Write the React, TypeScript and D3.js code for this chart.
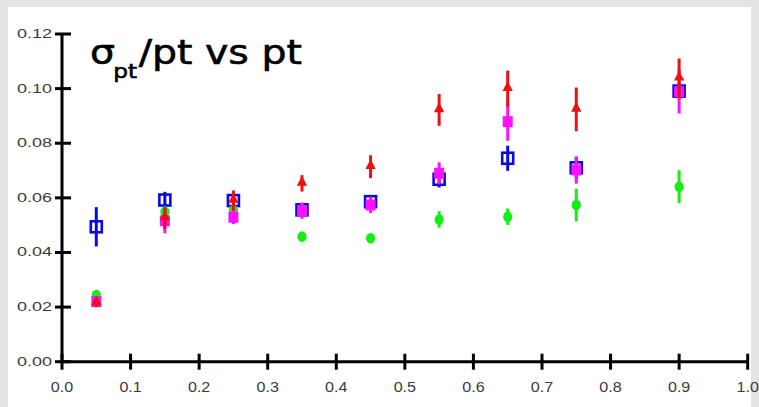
import React from "react";
import * as d3 from "d3";

// pt bin centres
const ptBins = [0.05, 0.15, 0.25, 0.35, 0.45, 0.55, 0.65, 0.75, 0.9];

// sigma_pt / pt for each sample, with errors
const blueVals = [0.0494, 0.0592, 0.059, 0.0556, 0.0586, 0.0668, 0.0745, 0.071, 0.0991];
const blueErrs = [0.0072, 0.003, 0.0025, 0.002, 0.002, 0.003, 0.0046, 0.004, 0.003];
const greenVals = [0.0244, 0.0549, 0.0555, 0.0458, 0.0452, 0.0521, 0.0531, 0.0574, 0.0641];
const greenErrs = [0.001, 0.002, 0.002, 0.0015, 0.0015, 0.003, 0.003, 0.006, 0.006];
const magentaVals = [0.022, 0.0516, 0.0529, 0.0553, 0.0574, 0.069, 0.0879, 0.0702, 0.0989];
const magentaErrs = [0.0015, 0.0046, 0.0025, 0.003, 0.003, 0.004, 0.007, 0.005, 0.008];
const redVals = [0.0215, 0.0526, 0.059, 0.0653, 0.0714, 0.0922, 0.1, 0.0924, 0.1038];
const redErrs = [0.0015, 0.004, 0.0037, 0.003, 0.0042, 0.0058, 0.0066, 0.008, 0.0072];

const xTicks = [0, 0.1, 0.2, 0.3, 0.4, 0.5, 0.6, 0.7, 0.8, 0.9, 1.0];
const yTicks = [0, 0.02, 0.04, 0.06, 0.08, 0.1, 0.12];

const W = 759;
const H = 407;

const x = d3.scaleLinear().domain([0, 1]).range([62, 747.7]);
const y = d3.scaleLinear().domain([0, 0.12]).range([361.7, 34]);

const triangle = d3.symbol().type(d3.symbolTriangle).size(46)();
const circle = d3.symbol().type(d3.symbolCircle).size(66)();

type Series = { vals: number[]; errs: number[]; color: string; marker: string };

const series: Series[] = [
  { vals: blueVals, errs: blueErrs, color: "#0a0ae0", marker: "openSquare" },
  { vals: greenVals, errs: greenErrs, color: "#14ee14", marker: "circle" },
  { vals: magentaVals, errs: magentaErrs, color: "#ff10ff", marker: "square" },
  { vals: redVals, errs: redErrs, color: "#ee1010", marker: "triangle" },
];

const Marker = ({ m, color }: { m: string; color: string }) => {
  if (m === "openSquare")
    return <rect x={-5.5} y={-5.5} width={11} height={11} fill="none" stroke={color} strokeWidth={2.6} />;
  if (m === "square") return <rect x={-5} y={-5.5} width={10} height={11} fill={color} />;
  if (m === "circle") return <path d={circle || ""} fill={color} transform="scale(1,1.15)" />;
  return <path d={triangle || ""} fill={color} transform="translate(0,-1) scale(1,1.1)" />;
};

export default function App() {
  return (
    <svg
      width={W}
      height={H}
      style={{ position: "absolute", left: 0, top: 0, display: "block" }}
      fontFamily="Liberation Sans, Arial, sans-serif"
    >
      <rect width={W} height={H} fill="#e3e3e3" />
      <rect x={8} y={7} width={743} height={H - 7} fill="#ffffff" />

      {/* title */}
      <g
        transform="translate(90,64) scale(1.16,1)"
        fontFamily="DejaVu Sans, sans-serif"
        fill="#000"
        stroke="#000"
        strokeWidth={0.6}
      >
        <text fontSize={34}>σ</text>
        <text x={20} y={14} fontSize={20}>pt</text>
        <text x={42} fontSize={34}>/pt vs pt</text>
      </g>

      {/* axes */}
      <line x1={x(0)} x2={x(1)} y1={y(0)} y2={y(0)} stroke="#000" strokeWidth={3} />
      <line x1={x(0)} x2={x(0)} y1={y(0)} y2={y(0.12)} stroke="#000" strokeWidth={3} />
      {yTicks.map((t) => (
        <g key={"y" + t}>
          <line x1={x(0) - 7} x2={x(0) + 9} y1={y(t)} y2={y(t)} stroke="#000" strokeWidth={3} />
          <text
            transform={`translate(52,${y(t) + 4}) scale(1.5,1)`}
            textAnchor="end"
            fontSize={12}
            fill="#3a3a3a"
          >
            {t.toFixed(2)}
          </text>
        </g>
      ))}
      {xTicks.map((t) => (
        <g key={"x" + t}>
          <line x1={x(t)} x2={x(t)} y1={y(0) - 8} y2={y(0) + 8} stroke="#000" strokeWidth={3} />
          <text
            transform={`translate(${x(t)},${y(0) + 30}) scale(1.15,1)`}
            textAnchor="middle"
            fontSize={14}
            fill="#3a3a3a"
          >
            {t.toFixed(1)}
          </text>
        </g>
      ))}

      {/* data */}
      {series.map((s, si) => (
        <g key={si}>
          {ptBins.map((p, i) => (
            <g key={i}>
              <line
                x1={x(p)}
                x2={x(p)}
                y1={y(s.vals[i] + s.errs[i])}
                y2={y(s.vals[i] - s.errs[i])}
                stroke={s.color}
                strokeWidth={3}
              />
              <g transform={`translate(${x(p)},${y(s.vals[i])})`}>
                <Marker m={s.marker} color={s.color} />
              </g>
            </g>
          ))}
        </g>
      ))}
    </svg>
  );
}
